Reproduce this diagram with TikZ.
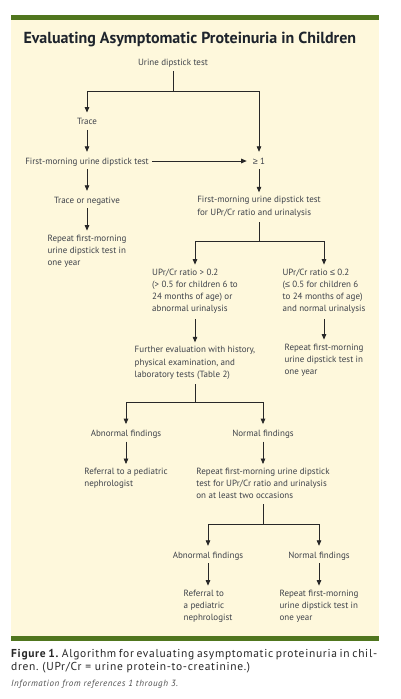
\documentclass[tikz,border=0pt]{standalone}
\usepackage{fontspec}
\setmainfont{PT Sans}
\newfontfamily\symf{Liberation Sans}
\newfontfamily\capf[LetterSpace=6]{PT Sans}
\newfontfamily\infof[LetterSpace=6]{PT Sans}
\usetikzlibrary{arrows.meta,calc}
\definecolor{cream}{RGB}{254,248,220}
\definecolor{barg}{RGB}{80,118,30}
\definecolor{txtc}{RGB}{62,66,74}
\definecolor{linec}{RGB}{40,40,40}
\definecolor{titc}{RGB}{30,36,44}
\definecolor{capc}{RGB}{40,40,40}
\definecolor{infoc}{RGB}{80,80,80}
\tikzset{
  txt/.style={font=\fontsize{9}{12.2}\selectfont, text=txtc, inner sep=0pt},
  one/.style={txt, text height=6pt, text depth=0pt},
  multi/.style={txt, align=left, anchor=north},
  arr/.style={draw=linec, line width=0.8pt, -{Triangle[length=5.5pt,width=4.6pt]}, shorten <=5pt, shorten >=6pt},
  arrm/.style={arr, shorten >=4pt},
  ln/.style={draw=linec, line width=0.8pt, shorten <=5pt},
  captxt/.style={anchor=base west, inner sep=0pt, font=\capf\fontsize{11.5}{13}\selectfont\frenchspacing, text=capc}
}
\begin{document}
\begin{tikzpicture}[x=1pt,y=-1pt]
\useasboundingbox (0,0) rectangle (400,699);
\fill[white] (0,0) rectangle (400,699);
\fill[cream] (11,20) rectangle (379,636);
\fill[barg] (11,15) rectangle (379,20);
\fill[barg] (11,636) rectangle (379,641);

\node[anchor=base west, font=\fontsize{16}{19}\selectfont\bfseries, text=titc, inner sep=0pt] (title) at (23.3,43.3) {Evaluating Asymptomatic Proteinuria in Children};

% nodes
\node[one] (udt) at (173,62.7) {Urine dipstick test};
\node[one] (trace) at (87,121.7) {Trace};
\node[one] (fm1) at (87,161) {First-morning urine dipstick test};
\node[one] (ge1) at (259,161) {{\symf ≥} 1};
\node[one] (ton) at (87,200) {Trace or negative};
\node[multi] (rep1) at (87,234.6) {Repeat first-morning\\urine dipstick test in\\one year};
\node[multi] (fmr) at (259,196.3) {First-morning urine dipstick test\\for UPr/Cr ratio and urinalysis};
\node[multi] (upl) at (195,268.6) {UPr/Cr ratio > 0.2\\(> 0.5 for children 6 to\\24 months of age) or\\abnormal urinalysis};
\node[multi] (upr) at (324,268.6) {UPr/Cr ratio {\symf ≤} 0.2\\({\symf ≤} 0.5 for children 6\\to 24 months of age)\\and normal urinalysis};
\node[multi] (fe) at (195,346.3) {Further evaluation with history,\\physical examination, and\\laboratory tests (Table 2)};
\node[multi] (rep2) at (324,343.6) {Repeat first-morning\\urine dipstick test in\\one year};
\node[one] (ab1) at (126,433.3) {Abnormal findings};
\node[one] (nf1) at (263,433.3) {Normal findings};
\node[multi] (ref1) at (126,468) {Referral to a pediatric\\nephrologist};
\node[multi] (rep3) at (263,468) {Repeat first-morning urine dipstick\\test for UPr/Cr ratio and urinalysis\\on at least two occasions};
\node[one] (ab2) at (208,555) {Abnormal findings};
\node[one] (nf2) at (319,555) {Normal findings};
\node[multi] (ref2) at (208,589.6) {Referral to\\a pediatric\\nephrologist};
\node[multi] (rep4) at (319,589.6) {Repeat first-morning\\urine dipstick test in\\one year};

% junctions
\coordinate (j1) at (173,91);
\coordinate (j2) at (259,241);
\coordinate (j3) at (195,402.3);
\coordinate (j4) at (263,524.7);

% connectors
\draw[ln] (udt) -- (j1);
\draw[arr, shorten <=0pt] (j1) -| (trace);
\draw[arr, shorten <=0pt] (j1) -| (ge1);
\draw[arr] (trace.south) -- (trace.south |- fm1.north);
\draw[arr, shorten <=3pt, shorten >=6pt] (fm1.east) -- (fm1.east -| ge1.west);
\draw[arr] (fm1.south) -- (fm1.south |- ton.north);
\draw[arrm] (ton.south) -- (ton.south |- rep1.north);
\draw[arrm] (ge1.south) -- (ge1.south |- fmr.north);
\draw[ln] (fmr.south) -- (j2);
\draw[arrm, shorten <=0pt] (j2) -| (upl.north);
\draw[arrm, shorten <=0pt] (j2) -| (upr.north);
\draw[arrm] (upl.south) -- (upl.south |- fe.north);
\draw[arrm] (upr.south) -- (upr.south |- rep2.north);
\draw[ln] (fe.south) -- (j3);
\draw[arr, shorten <=0pt] (j3) -| (ab1);
\draw[arr, shorten <=0pt] (j3) -| (nf1);
\draw[arrm] (ab1.south) -- (ab1.south |- ref1.north);
\draw[arrm] (nf1.south) -- (nf1.south |- rep3.north);
\draw[ln] (rep3.south) -- (j4);
\draw[arr, shorten <=0pt] (j4) -| (ab2);
\draw[arr, shorten <=0pt] (j4) -| (nf2);
\draw[arrm] (ab2.south) -- (ab2.south |- ref2.north);
\draw[arrm] (nf2.south) -- (nf2.south |- rep4.north);

% caption
\node[captxt] (cap1) at (11,657) {\spaceskip=2pt plus 4pt minus 1pt\makebox[366pt][s]{\textbf{Figure 1.} Algorithm for evaluating asymptomatic proteinuria in chil-}};
\node[captxt] (cap2) at (11,670.5) {dren. (UPr/Cr = urine protein-to-creatinine.)};
\node[anchor=base west, inner sep=0pt, font=\infof\fontsize{9}{10}\selectfont\itshape, text=infoc] (info) at (11,686.5) {Information from references 1 through 3.};
\end{tikzpicture}
\end{document}
